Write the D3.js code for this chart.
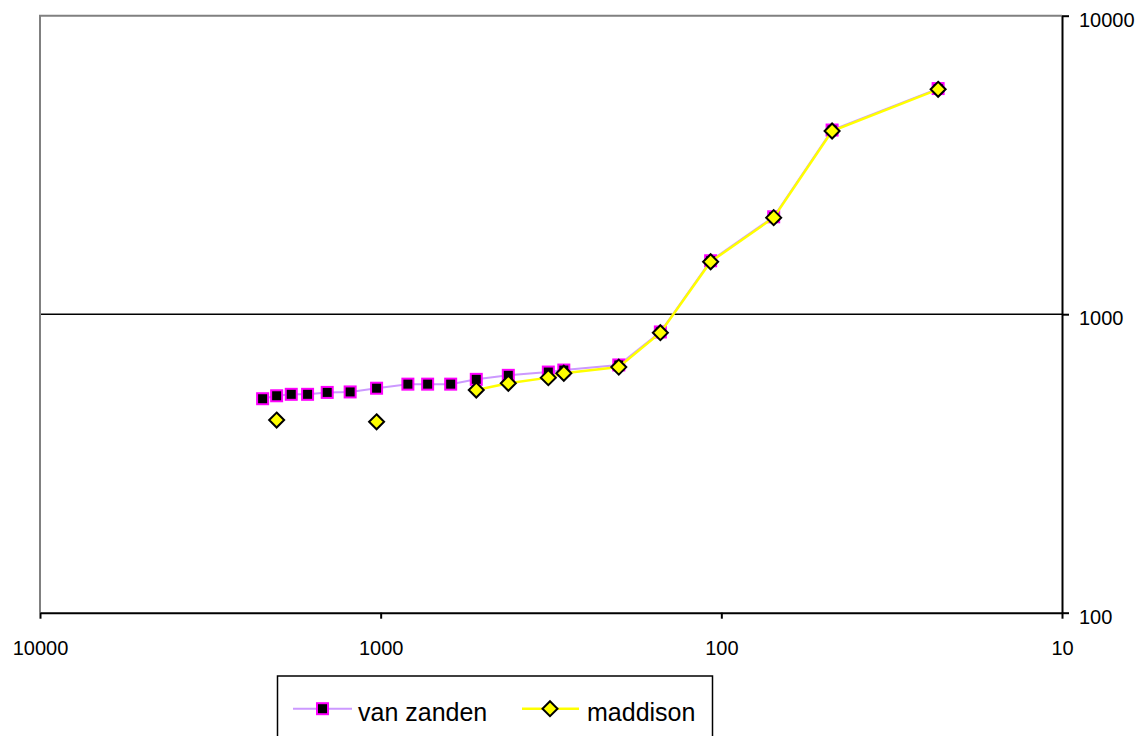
<!DOCTYPE html>
<html>
<head>
<meta charset="utf-8">
<script src="https://cdn.jsdelivr.net/npm/d3@7"></script>
<style>
  html, body { margin: 0; padding: 0; background: #fff; }
  svg { display: block; font-family: "Liberation Sans", Arial, sans-serif; }
</style>
</head>
<body>
<svg id="chart" width="1142" height="736"></svg>
<script>
// Shared x values (years before present, log scale, reversed)
const xValues = [2221, 2020, 1830, 1639, 1435, 1229, 1028, 832, 728, 623, 524, 422, 322, 290, 200, 151, 107.5, 70.2, 47.3, 23.1];
const vanZanden = [521, 533, 539, 539, 547, 549, 565, 583, 583, 583, 605, 624, 640, 650, 676, 872, 1510, 2120, 4140, 5700];
const maddison = [null, 442, null, null, null, null, 436, null, null, null, 557, 587, 613, 634, 665, 867, 1499, 2106, 4109, 5667];
const seriesNames = ["van zanden", "maddison"];
const xTicks = [10000, 1000, 100, 10];
const yTicks = [100, 1000, 10000];
const yGrid = [1000];

const svg = d3.select("#chart");
const L = 40, R = 1062, T = 15.7, B = 612.7;

const x = d3.scaleLog().domain([10000, 10]).range([L, R]);
const y = d3.scaleLog().domain([100, 10000]).range([B, T]);

// gridline
svg.selectAll("line.grid").data(yGrid).enter().append("line")
  .attr("class", "grid")
  .attr("x1", L).attr("x2", R)
  .attr("y1", d => y(d)).attr("y2", d => y(d))
  .attr("stroke", "#000").attr("stroke-width", 1.6);

// frame top/left (gray)
svg.append("path")
  .attr("d", `M${L},${B} L${L},${T} L${R},${T}`)
  .attr("fill", "none").attr("stroke", "#808080").attr("stroke-width", 2);

// bottom axis
const xAxis = d3.axisBottom(x).tickValues(xTicks).tickFormat(d3.format("d"))
  .tickSize(6).tickSizeOuter(0);
const gx = svg.append("g").attr("transform", `translate(0,${B})`).call(xAxis);
gx.select(".domain").attr("stroke", "#000").attr("stroke-width", 2);
gx.selectAll(".tick line").attr("stroke", "#000").attr("stroke-width", 2);
gx.selectAll(".tick text").attr("y", 42).attr("dy", null)
  .attr("font-size", 20).attr("fill", "#000")
  .attr("font-family", "Liberation Sans, Arial, sans-serif");

// right axis
const yAxis = d3.axisRight(y).tickValues(yTicks).tickFormat(d3.format("d"))
  .tickSize(7).tickSizeOuter(0);
const gy = svg.append("g").attr("transform", `translate(${R},0)`).call(yAxis);
gy.select(".domain").attr("stroke", "#000").attr("stroke-width", 2);
gy.selectAll(".tick line").attr("stroke", "#000").attr("stroke-width", 2);
gy.selectAll(".tick text").attr("x", 17).attr("dy", "0.52em")
  .attr("font-size", 20).attr("fill", "#000")
  .attr("font-family", "Liberation Sans, Arial, sans-serif");

const vzData = xValues.map((v, i) => ({x: v, y: vanZanden[i]}));
const mdData = xValues.map((v, i) => ({x: v, y: maddison[i]}));

const line = d3.line().defined(d => d.y != null).x(d => x(d.x)).y(d => y(d.y));

// van zanden
svg.append("path").datum(vzData).attr("d", line)
  .attr("fill", "none").attr("stroke", "#CC99FF").attr("stroke-width", 2);
const sq = 11;
svg.selectAll("rect.vz").data(vzData.filter(d => d.y != null)).enter().append("rect")
  .attr("class", "vz")
  .attr("x", d => x(d.x) - sq / 2).attr("y", d => y(d.y) - sq / 2)
  .attr("width", sq).attr("height", sq)
  .attr("fill", "#000").attr("stroke", "#FF00FF").attr("stroke-width", 2);

// maddison
svg.append("path").datum(mdData).attr("d", line)
  .attr("fill", "none").attr("stroke", "#FFFF00").attr("stroke-width", 2.5);
const dm = 7.5;
const diamond = (cx, cy) => `M${cx},${cy - dm} L${cx + dm},${cy} L${cx},${cy + dm} L${cx - dm},${cy} Z`;
svg.selectAll("path.md").data(mdData.filter(d => d.y != null)).enter().append("path")
  .attr("class", "md")
  .attr("d", d => diamond(x(d.x), y(d.y)))
  .attr("fill", "#FFFF00").attr("stroke", "#000").attr("stroke-width", 2);

// legend
const lg = svg.append("g");
lg.append("rect").attr("x", 277.5).attr("y", 676).attr("width", 435).attr("height", 80)
  .attr("fill", "#fff").attr("stroke", "#000").attr("stroke-width", 1.5);
const ly = 708.7;
// item 1
lg.append("line").attr("x1", 293).attr("x2", 352).attr("y1", ly).attr("y2", ly)
  .attr("stroke", "#CC99FF").attr("stroke-width", 2);
lg.append("rect").attr("x", 322.5 - sq / 2).attr("y", ly - sq / 2).attr("width", sq).attr("height", sq)
  .attr("fill", "#000").attr("stroke", "#FF00FF").attr("stroke-width", 2);
lg.append("text").attr("x", 358).attr("y", 721).attr("font-size", 25).attr("fill", "#000")
  .text(seriesNames[0]);
// item 2
lg.append("line").attr("x1", 522).attr("x2", 579).attr("y1", ly).attr("y2", ly)
  .attr("stroke", "#FFFF00").attr("stroke-width", 2.5);
lg.append("path").attr("d", diamond(550, ly))
  .attr("fill", "#FFFF00").attr("stroke", "#000").attr("stroke-width", 2);
lg.append("text").attr("x", 587).attr("y", 721).attr("font-size", 25).attr("fill", "#000")
  .text(seriesNames[1]);
</script>
</body>
</html>
